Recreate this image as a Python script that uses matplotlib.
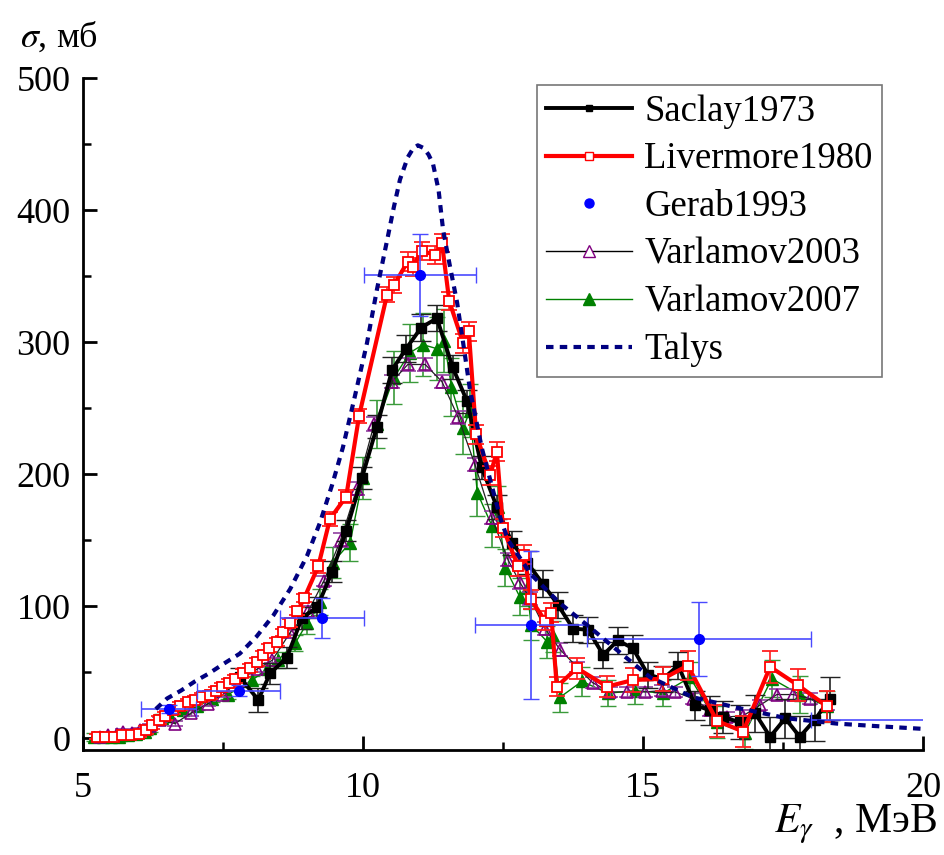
import matplotlib
matplotlib.use("Agg")
import matplotlib.pyplot as plt
from matplotlib.lines import Line2D
from matplotlib.ticker import MultipleLocator

plt.rcParams['font.family'] = ['Liberation Serif', 'DejaVu Serif']
plt.rcParams['mathtext.fontset'] = 'stix'

# ---- data ----
saclay_E = [7.8, 8.13, 8.34, 8.64, 8.91, 9.18, 9.45, 9.7, 9.98, 10.25, 10.52, 10.77, 11.04, 11.32,
            11.6, 11.86, 12.12, 12.39, 12.66, 12.93, 13.21, 13.48, 13.75, 14.02, 14.29, 14.55, 14.82,
            15.09, 15.36, 15.63, 15.93, 16.2, 16.43, 16.73, 17.0, 17.27, 17.54, 17.8, 18.07, 18.34]
saclay_s = [46, 29, 49, 61, 91, 99, 126, 157, 197, 236, 279, 295, 311, 318,
            281, 255, 205, 175, 148, 133, 117, 101, 83, 82, 63, 74, 68,
            48, 45, 55, 25, 21, 16, 12, 19, 1, 15, 1, 14, 30]
saclay_err = [7, 9, 8, 8, 8, 8, 8, 8, 8, 9, 10, 10, 10, 10,
              9, 9, 9, 9, 9, 9, 10, 10, 10, 10, 10, 10, 10,
              10, 10, 10, 11, 11, 12, 13, 14, 15, 15, 16, 16, 16]

liver_E = [5.25, 5.4, 5.55, 5.7, 5.85, 6.0, 6.12, 6.23, 6.35, 6.46, 6.6, 6.73, 6.87, 7.0, 7.13, 7.27,
           7.38, 7.48, 7.6, 7.71, 7.85, 7.98, 8.1, 8.21, 8.33, 8.46, 8.58, 8.7, 8.83, 8.95, 9.2,
           9.41, 9.7, 9.93, 10.43, 10.55, 10.8, 10.89, 11.05, 11.29, 11.41, 11.54, 11.79, 11.89,
           12.02, 12.27, 12.39, 12.5, 12.77, 12.88, 13.0, 13.25, 13.36, 13.46, 13.82, 14.36,
           14.82, 15.36, 15.8, 16.32, 16.79, 17.27, 17.77, 18.29]
liver_s = [1, 1, 1, 2, 2, 3, 6, 10, 14, 17, 21, 24, 27, 29, 31, 33,
           36, 39, 42, 45, 49, 53, 58, 63, 68, 73, 80, 87, 96, 106, 130,
           166, 183, 244, 336, 343, 361, 357, 369, 366, 375, 331, 299, 308,
           230, 199, 217, 159, 130, 139, 105, 89, 95, 39, 53, 39,
           44, 45, 55, 13, 5, 54, 40, 24]
liver_err = [2] * 6 + [3] * 24 + [5, 5, 5, 5, 6, 6, 7, 7, 7, 7, 7, 7, 7, 7,
                                  7, 7, 7, 7, 7, 7, 7, 7, 7, 7, 8, 8,
                                  9, 9, 11, 12, 12, 12, 12, 12]

gerab_E = [6.53, 7.78, 9.27, 11.02, 13.0, 16.0, 22.0]
gerab_s = [22, 36, 91, 351, 86, 75, 14]
gerab_xerr = [0.49, 0.74, 0.75, 1.0, 1.0, 2.0, 4.0]
gerab_yerr = [3, 4, 15, 31, 56, 28, 3]

v03_E = [5.3, 5.45, 5.6, 5.71, 5.87, 6.02, 6.2, 6.38, 6.64, 6.93, 7.23, 7.5, 7.8, 8.1, 8.38, 8.7,
         9.02, 9.3, 9.6, 9.89, 10.2, 10.52, 10.8, 11.11, 11.41, 11.7, 12.0, 12.3, 12.59, 12.8,
         12.98, 13.25, 13.52, 13.82, 14.1, 14.41, 14.71, 15.04, 15.34, 15.57, 15.89, 16.2, 16.5,
         16.79, 17.09, 17.39, 17.68, 17.98, 18.29]
v03_s = [1, 2, 3, 5, 4, 6, 9, 14, 11, 19, 26, 33, 44, 52, 59, 80,
         96, 119, 150, 189, 238, 270, 283, 283, 270, 243, 207, 167, 135, 118,
         106, 83, 67, 54, 42, 35, 35, 35, 36, 35, 30, 21, 16,
         17, 25, 33, 33, 30, 25]
v03_err = [2] * 16 + [4, 4, 5, 5, 5, 5, 5, 5, 5, 5, 5, 5, 5, 5,
                      5, 5, 5, 4, 4, 4, 4, 4, 4, 4, 4, 4, 4,
                      4, 4, 4, 4, 4, 4]

v07_E = [5.2, 5.35, 5.5, 5.65, 5.8, 5.95, 6.1, 6.2, 6.41, 6.55, 6.79, 7.04, 7.3, 7.59, 8.02, 8.29,
         8.48, 8.79, 9.0, 9.23, 9.46, 9.77, 10.0, 10.25, 10.55, 10.84, 11.07, 11.32, 11.45, 11.58,
         11.79, 11.91, 12.04, 12.3, 12.41, 12.54, 12.8, 12.93, 13.0, 13.29, 13.39, 13.52, 13.91,
         14.38, 14.86, 15.36, 15.84, 16.32, 16.82, 17.3, 17.8, 18.29]
v07_s = [1, 1, 1, 1, 2, 3, 5, 8, 15, 17, 21, 24, 30, 33, 44, 52,
         59, 72, 87, 103, 133, 148, 197, 238, 273, 292, 298, 295, 301, 266,
         235, 248, 186, 161, 175, 129, 107, 114, 86, 73, 77, 31, 43,
         34, 36, 34, 46, 12, 4, 45, 33, 24]
v07_err = [3] * 16 + [6, 6, 8, 10, 12, 14, 16, 18, 20, 22, 24, 24, 24, 22,
                      20, 20, 18, 16, 16, 14, 14, 14, 12, 12, 12, 11, 11,
                      10, 10, 10, 12, 12, 12, 14, 14, 12]

talys_E = [6.3, 6.5, 6.75, 7.0, 7.25, 7.5, 7.8, 8.1, 8.4, 8.7, 9.0, 9.23, 9.45, 9.64, 9.85, 10.07,
           10.25, 10.43, 10.55, 10.66, 10.8, 10.9, 10.98, 11.08, 11.17, 11.25, 11.35, 11.43, 11.55,
           11.68, 11.8, 11.91, 12.12, 12.45, 12.59, 13.0, 13.52, 14.05, 14.64, 15.13, 15.89, 16.68,
           17.57, 18.46, 19.2, 20.0]
talys_s = [22, 30, 36, 43, 49, 56, 64, 77, 93, 113, 138, 163, 192, 220, 258, 299,
           340, 377, 402, 423, 440, 447, 449, 447, 442, 435, 415, 385, 358,
           330, 296, 264, 220, 167, 150, 124, 102, 84, 63, 46, 31, 23,
           15, 11, 9, 7]

# ---- figure ----
W, H = 945, 855
fig = plt.figure(figsize=(W / 100, H / 100), dpi=100)
ax = fig.add_axes([83 / W, 1 - 750 / H, (923 - 83) / W, (750 - 78) / H])

ax.errorbar(v07_E, v07_s, yerr=v07_err, color='#008000', lw=1.0, marker='^', ms=9,
            mfc='#008000', mec='#008000', ecolor='#3a9a3a', elinewidth=1.2, capsize=6, zorder=2)
ax.errorbar(v03_E, v03_s, yerr=v03_err, color='#222222', lw=0.9, marker='^', ms=9,
            mfc='none', mec='#800080', mew=1.2, ecolor='#9040a0', elinewidth=1.0, capsize=6, zorder=3)
ax.errorbar(saclay_E, saclay_s, yerr=saclay_err, color='black', lw=2.8, marker='s', ms=7,
            mfc='black', mec='black', ecolor='#222222', elinewidth=1.2, capsize=7, zorder=4)
ax.errorbar(liver_E, liver_s, yerr=liver_err, color='#ff0000', lw=3.0, marker='s', ms=7,
            mfc='white', mec='#ff0000', mew=1.3, ecolor='#ff2020', elinewidth=1.2, capsize=6, zorder=5)
ax.errorbar(gerab_E, gerab_s, xerr=gerab_xerr, yerr=gerab_yerr, fmt='o', color='#0000ff', ms=7,
            ecolor='#4a4aff', elinewidth=1.2, capsize=6, zorder=6)
ax.plot(talys_E, talys_s, color='#000080', lw=3.0, ls=(0, (1.8, 1.5)), zorder=7)

ax.set_xlim(5, 20)
ax.set_ylim(-9, 500)
ax.xaxis.set_major_locator(MultipleLocator(5))
ax.xaxis.set_minor_locator(MultipleLocator(2.5))
ax.yaxis.set_major_locator(MultipleLocator(100))
ax.yaxis.set_minor_locator(MultipleLocator(50))
for s in ['top', 'right']:
    ax.spines[s].set_visible(False)
for s in ['left', 'bottom']:
    ax.spines[s].set_linewidth(2.0)
ax.tick_params(which='major', direction='in', length=10, width=2.0, labelsize=26)
ax.tick_params(which='minor', direction='in', length=6, width=1.8)
ax.tick_params(axis='y', which='major', pad=9)
ax.tick_params(axis='x', which='major', pad=16)

fig.text(20 / W, 1 - 37 / H, r'$\sigma$, мб', fontsize=26, ha='left', va='center')
fig.text(937 / W, 1 - 824 / H, r'$E_{\gamma}\,\,$ , МэВ', fontsize=30, ha='right', va='center')

handles = [
    Line2D([], [], color='black', lw=2.8, marker='s', ms=5, mfc='black', mec='black'),
    Line2D([], [], color='#ff0000', lw=3.0, marker='s', ms=5.5, mfc='white', mec='#ff0000'),
    Line2D([], [], color='#0000ff', lw=0, marker='o', ms=6.5),
    Line2D([], [], color='black', lw=1.0, marker='^', ms=8, mfc='white', mec='#800080'),
    Line2D([], [], color='#008000', lw=1.0, marker='^', ms=8, mfc='#008000', mec='#008000'),
    Line2D([], [], color='#000080', lw=3.0, ls=(0, (1.8, 1.5))),
]
labels = ['Saclay1973', 'Livermore1980', 'Gerab1993', 'Varlamov2003', 'Varlamov2007', 'Talys']
leg = ax.legend(handles, labels, loc='upper right', bbox_to_anchor=(882 / W, 1 - 85 / H),
                bbox_transform=fig.transFigure, borderaxespad=0, fontsize=26.5, frameon=True,
                fancybox=False, edgecolor='#555555', handlelength=2.35, handletextpad=0.33,
                labelspacing=0.36, borderpad=0.25)
leg.get_frame().set_linewidth(1.2)

fig.savefig('out.png', dpi=100)
